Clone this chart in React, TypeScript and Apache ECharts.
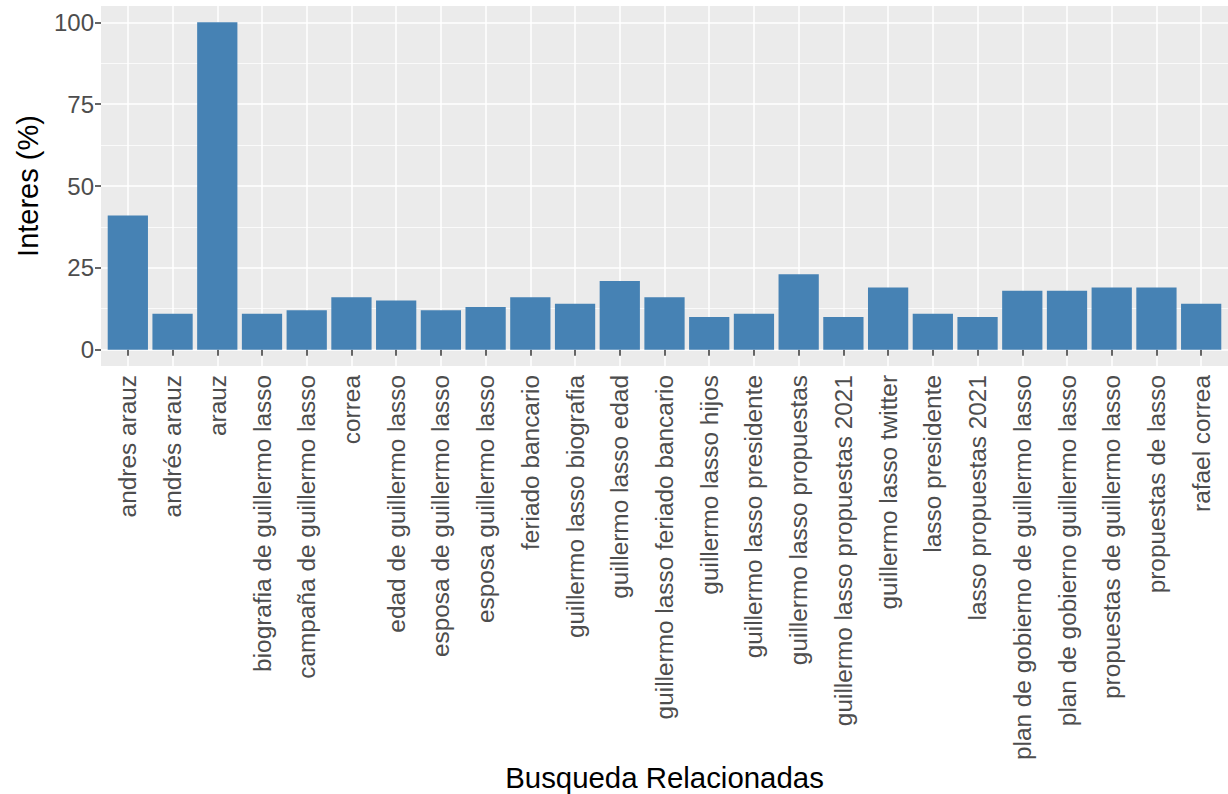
import React, { useEffect, useRef } from "react";
import * as echarts from "echarts";

const categories = [
  "andres arauz",
  "andrés arauz",
  "arauz",
  "biografia de guillermo lasso",
  "campaña de guillermo lasso",
  "correa",
  "edad de guillermo lasso",
  "esposa de guillermo lasso",
  "esposa guillermo lasso",
  "feriado bancario",
  "guillermo lasso biografia",
  "guillermo lasso edad",
  "guillermo lasso feriado bancario",
  "guillermo lasso hijos",
  "guillermo lasso presidente",
  "guillermo lasso propuestas",
  "guillermo lasso propuestas 2021",
  "guillermo lasso twitter",
  "lasso presidente",
  "lasso propuestas 2021",
  "plan de gobierno de guillermo lasso",
  "plan de gobierno guillermo lasso",
  "propuestas de guillermo lasso",
  "propuestas de lasso",
  "rafael correa",
];

const interes = [41, 11, 100, 11, 12, 16, 15, 12, 13, 16, 14, 21, 16, 10, 11, 23, 10, 19, 11, 10, 18, 18, 19, 19, 14];

const FONT = "'Liberation Sans', Arial, Helvetica, sans-serif";

export default function App() {
  const ref = useRef<HTMLDivElement>(null);
  useEffect(() => {
    if (!ref.current) return;
    const chart = echarts.init(ref.current, undefined, { renderer: "svg" });
    const panelL = 101;
    const panelR = 1228;
    const panelT = 6;
    const panelB = 366;
    const n = categories.length;
    const unit = (panelR - panelL) / (n - 1 + 1.2);
    const firstC = panelL + 0.6 * unit;
    const lastC = panelR - 0.6 * unit;
    const yUnit = (panelB - panelT) / 110;
    const y0 = panelB - 5 * yUnit;
    const y100 = panelT + 5 * yUnit;

    chart.setOption({
      animation: false,
      graphic: [
        {
          type: "rect",
          z: -10,
          silent: true,
          shape: { x: panelL, y: panelT, width: panelR - panelL, height: panelB - panelT },
          style: { fill: "#EBEBEB" },
        },
        {
          type: "text",
          x: 28,
          y: (panelT + panelB) / 2,
          rotation: Math.PI / 2,
          style: {
            text: "Interes (%)",
            font: `29px ${FONT}`,
            fill: "#000000",
            align: "center",
            verticalAlign: "middle",
          },
        },
        {
          type: "text",
          x: (panelL + panelR) / 2,
          y: 777,
          style: {
            text: "Busqueda Relacionadas",
            font: `29.4px ${FONT}`,
            fill: "#000000",
            align: "center",
            verticalAlign: "middle",
          },
        },
      ],
      grid: [
        { left: panelL, width: panelR - panelL, top: y100, height: y0 - y100, containLabel: false },
        { left: firstC, width: lastC - firstC, top: panelT, height: panelB - panelT, containLabel: false },
      ],
      xAxis: [
        { type: "value", gridIndex: 0, show: false, min: 0, max: 1 },
        {
          type: "category",
          gridIndex: 1,
          data: categories,
          boundaryGap: false,
          axisLine: { show: false },
          axisTick: { show: true, interval: 0, length: 6, lineStyle: { color: "#333333", width: 1.5 } },
          axisLabel: {
            interval: 0,
            rotate: 90,
            margin: 9,
            color: "#4D4D4D",
            fontSize: 24.4,
            fontFamily: FONT,
          },
          splitLine: { show: true, interval: 0, lineStyle: { color: "#FFFFFF", width: 1.5 } },
        },
      ],
      yAxis: [
        {
          type: "value",
          gridIndex: 0,
          min: 0,
          max: 100,
          interval: 25,
          axisLine: { show: false },
          axisTick: { show: true, length: 6, lineStyle: { color: "#333333", width: 1.5 } },
          axisLabel: { color: "#4D4D4D", fontSize: 24, fontFamily: FONT, margin: 7 },
          splitLine: { show: true, lineStyle: { color: "#FFFFFF", width: 1.5 } },
          minorTick: { show: false, splitNumber: 2 },
          minorSplitLine: { show: true, lineStyle: { color: "#FFFFFF", width: 0.75 } },
        },
        { type: "value", gridIndex: 1, min: -5, max: 105, show: false },
      ],
      series: [
        {
          type: "bar",
          xAxisIndex: 1,
          yAxisIndex: 1,
          data: interes,
          barWidth: "90%",
          clip: false,
          itemStyle: { color: "#4682B4" },
          silent: true,
        },
      ],
    });
    return () => chart.dispose();
  }, []);
  return (
    <div
      ref={ref}
      style={{ position: "fixed", left: 0, top: 0, width: 1228, height: 794, background: "#FFFFFF" }}
    />
  );
}
